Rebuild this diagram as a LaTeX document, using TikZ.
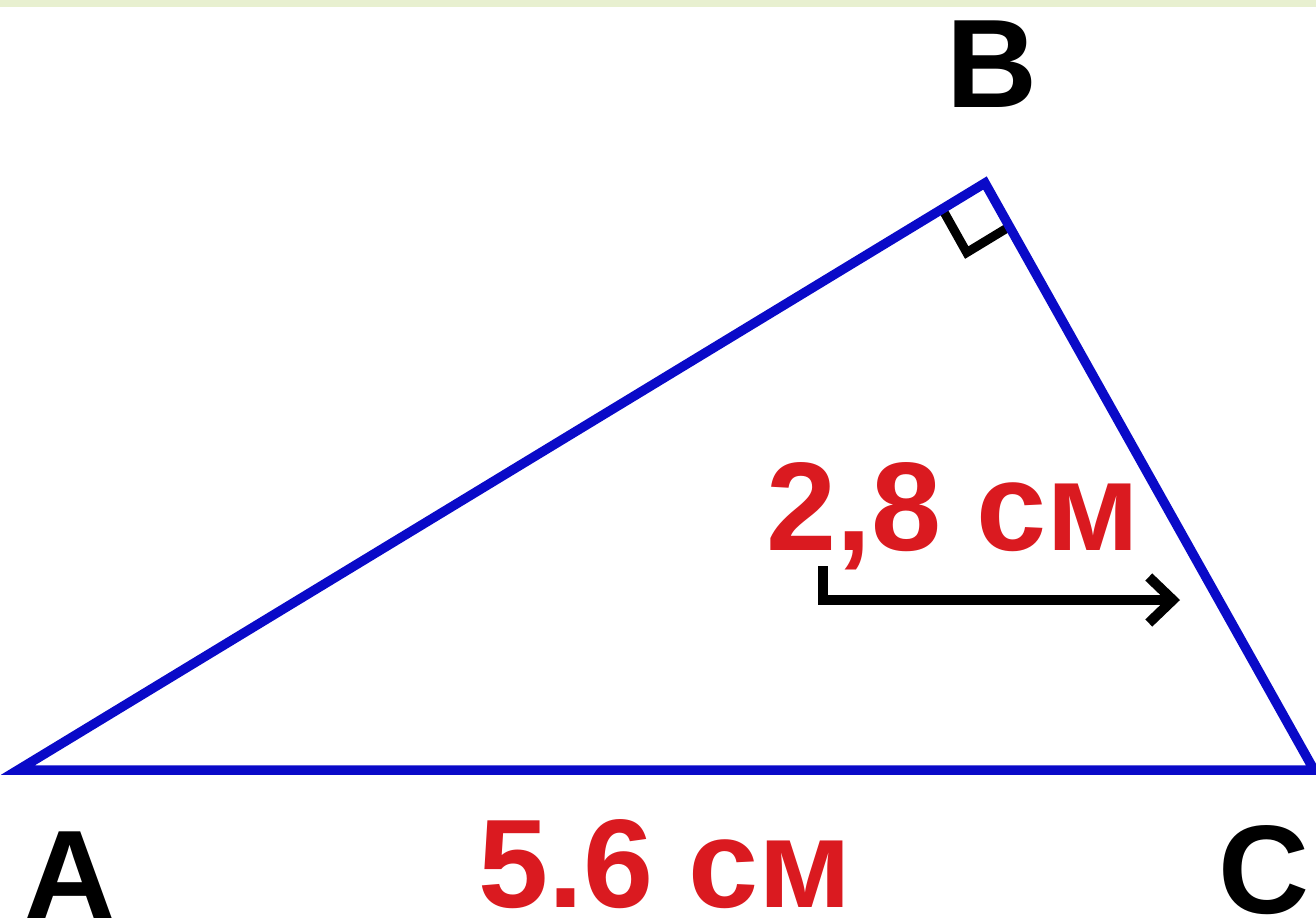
\documentclass[tikz,border=0pt]{standalone}
\usepackage{fontspec}
\setmainfont{Liberation Sans}
\usetikzlibrary{calc,arrows.meta}
\definecolor{triblue}{RGB}{10,10,200}
\definecolor{labred}{RGB}{218,26,32}
\definecolor{stripgreen}{RGB}{232,240,208}
\tikzset{
  side/.style={draw=triblue,line width=9.5pt,line join=miter},
  vlabel/.style={font=\bfseries\fontsize{126}{126}\selectfont,text=black,inner sep=0pt,anchor=base},
  mlabel/.style={font=\bfseries\fontsize{126}{126}\selectfont,text=labred,inner sep=0pt,anchor=base west},
  pointer/.style={draw=black,line width=10pt,-{Straight Barb[length=24pt,width=46pt,line width=10pt]}},
  rightmark/.style={draw=black,line width=9pt}
}
\begin{document}
\begin{tikzpicture}[x=1pt,y=-1pt]
\useasboundingbox (0,0) rectangle (1316,923);
\fill[white] (0,0) rectangle (1316,923);
\fill[stripgreen] (0,0) rectangle (1316,7);
\coordinate (A) at (18,770);
\coordinate (B) at (985,183);
\coordinate (C) at (1314,770);
% right angle marker
\coordinate (P1) at ($(B)!50pt!(A)$);
\coordinate (P2) at ($(B)!50pt!(C)$);
\coordinate (Q) at ($(P1)+(P2)-(B)$);
\draw[rightmark] (P1) -- (Q) -- (P2);
\draw[side] (A) -- (B) -- (C) -- cycle;
% labels
\node[vlabel] (lB) at (992,108) {B};
\node[vlabel] (lA) at (70,918) {A};
\node[vlabel] (lC) at (1264,913) {C};
\node[mlabel] (base) at (478,907) {5.6 см};
\node[mlabel] (leg) at (766,550) {2,8 см};
% arrow
\coordinate (s) at (823,566);
\coordinate (e) at (1180,600);
\draw[pointer] (s) |- (e);
\end{tikzpicture}
\end{document}
